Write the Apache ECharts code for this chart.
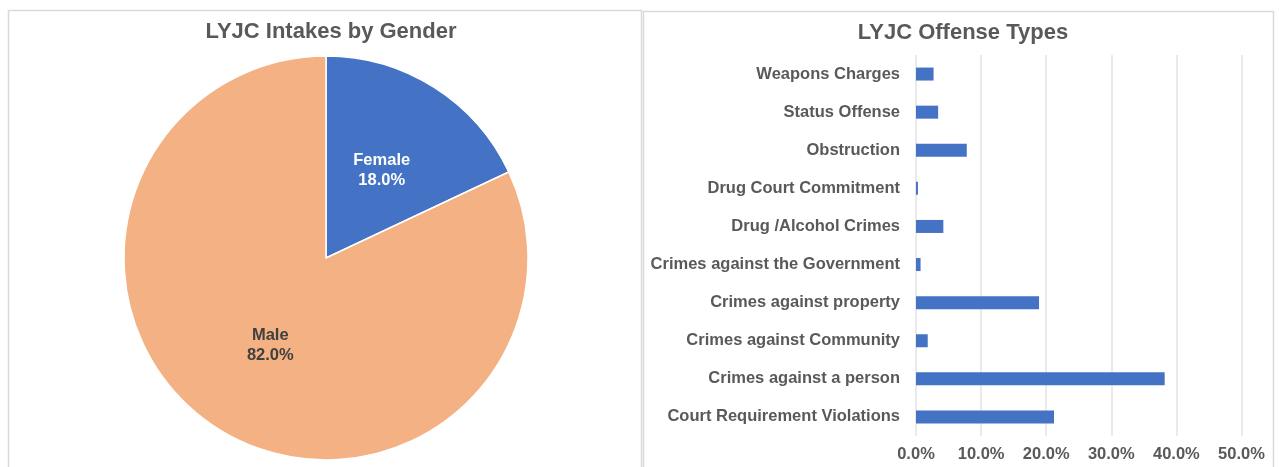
<!DOCTYPE html>
<html>
<head>
<meta charset="utf-8">
<script src="https://cdn.jsdelivr.net/npm/echarts@6/dist/echarts.min.js"></script>
<style>
html,body{margin:0;padding:0;background:#fff;}
#chart{width:1279px;height:467px;}
</style>
</head>
<body>
<div id="chart"></div>
<script>
// Pie data
const genderLabels = ["Female", "Male"];
const genderValues = [18.0, 82.0];

// Bar data (bottom to top)
const offenseCategories = [
  "Court Requirement Violations",
  "Crimes against a person",
  "Crimes against Community",
  "Crimes against property",
  "Crimes against the Government",
  "Drug /Alcohol Crimes",
  "Drug Court Commitment",
  "Obstruction",
  "Status Offense",
  "Weapons Charges"
];
const offenseValues = [21.2, 38.2, 1.8, 18.9, 0.7, 4.2, 0.3, 7.8, 3.4, 2.7];

const gray = "#595959";
const font = "Liberation Sans, Arial, sans-serif";

const chart = echarts.init(document.getElementById("chart"));
chart.setOption({
  backgroundColor: "#ffffff",
  animation: false,
  graphic: [
    {type: "rect", shape: {x: 8.5, y: 10.5, width: 633, height: 470}, style: {fill: "none", stroke: "#D9D9D9", lineWidth: 1.5}, z: 0},
    {type: "rect", shape: {x: 643.5, y: 11.5, width: 630, height: 470}, style: {fill: "none", stroke: "#D9D9D9", lineWidth: 1.5}, z: 0}
  ],
  title: [
    {text: "LYJC Intakes by Gender", left: 326, top: 16, textAlign: "center",
     textStyle: {fontFamily: font, fontSize: 22, fontWeight: "bold", color: gray}},
    {text: "LYJC Offense Types", left: 958, top: 17, textAlign: "center",
     textStyle: {fontFamily: font, fontSize: 22, fontWeight: "bold", color: gray}}
  ],
  grid: {left: 916, right: 1279 - 1241.5, top: 55, bottom: 467 - 436, containLabel: false},
  xAxis: {
    type: "value", min: 0, max: 50, interval: 10,
    axisLine: {show: false}, axisTick: {show: false},
    splitLine: {show: true, lineStyle: {color: "#E3E3E3", width: 1.5}},
    axisLabel: {formatter: v => v.toFixed(1) + "%", fontFamily: font, fontSize: 16.5, fontWeight: "bold", color: gray, margin: 10}
  },
  yAxis: {
    type: "category", data: offenseCategories,
    axisLine: {show: false}, axisTick: {show: false},
    axisLabel: {fontFamily: font, fontSize: 16.5, fontWeight: "bold", color: gray, margin: 16}
  },
  series: [
    {
      type: "bar", data: offenseValues, barWidth: 13,
      itemStyle: {color: "#4472C4"}
    },
    {
      type: "pie", center: [326, 258], radius: 202, startAngle: 90, clockwise: true,
      data: [
        {name: genderLabels[0], value: genderValues[0], label: {padding: [7, 0, 0, 0]}},
        {name: genderLabels[1], value: genderValues[1], label: {color: "#404040"}}
      ],
      itemStyle: {borderColor: "#ffffff", borderWidth: 1.5},
      color: ["#4472C4", "#F4B183"],
      label: {
        position: "inside",
        formatter: p => p.name + "\n" + p.value.toFixed(1) + "%",
        fontFamily: font, fontSize: 16.5, fontWeight: "bold", lineHeight: 20,
        color: "#ffffff"
      },
      labelLine: {show: false},
      emphasis: {disabled: true}
    }
  ]
});
</script>
</body>
</html>
